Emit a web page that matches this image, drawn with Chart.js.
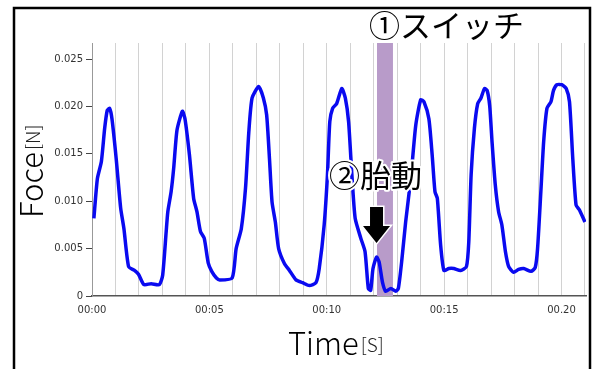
<!DOCTYPE html>
<html>
<head>
<meta charset="utf-8">
<script src="https://cdn.jsdelivr.net/npm/chart.js@4.4.1/dist/chart.umd.min.js"></script>
<style>
  body { margin: 0; background: #fff; }
  canvas { display: block; }
</style>
</head>
<body>
<canvas id="forceChart" width="593" height="369"></canvas>
<script>
// time [s] and force [N]
var timeSec = [0.08, 0.23, 0.40, 0.54, 0.65, 0.75, 0.85, 1.03, 1.22, 1.36, 1.56, 1.81, 1.98, 2.21, 2.52, 2.87,
    3.01, 3.16, 3.23, 3.37, 3.48, 3.62, 3.85, 3.96, 4.15, 4.33, 4.47, 4.62, 4.78, 4.95, 5.10, 5.30, 5.44, 5.97,
    6.14, 6.36, 6.54, 6.68, 6.82, 7.10, 7.30, 7.44, 7.56, 7.67, 7.81, 7.95, 8.20, 8.41, 8.69, 8.97, 9.26, 9.54,
    9.68, 9.89, 10.03, 10.13, 10.25, 10.42, 10.64, 10.79, 10.93, 11.07, 11.21, 11.45, 11.63, 11.77, 11.87, 11.97,
    12.12, 12.23, 12.37, 12.51, 12.73, 12.94, 13.05, 13.19, 13.36, 13.58, 13.79, 14.00, 14.14, 14.35, 14.49, 14.61,
    14.71, 14.85, 14.99, 15.20, 15.41, 15.70, 15.95, 16.05, 16.15, 16.29, 16.43, 16.57, 16.72, 16.83, 16.94, 17.04,
    17.18, 17.32, 17.46, 17.61, 17.75, 17.96, 18.17, 18.39, 18.70, 18.88, 18.98, 19.12, 19.24, 19.38, 19.55, 19.66,
    19.80, 20.01, 20.20, 20.34, 20.48, 20.62, 20.76, 21.00];
var force = [0.0082, 0.0124, 0.0142, 0.0177, 0.0196, 0.0198, 0.0187, 0.0145, 0.0093, 0.0071, 0.0031, 0.0027, 0.0023, 0.0012, 0.0013, 0.0012,
    0.0022, 0.0068, 0.0089, 0.0110, 0.0135, 0.0175, 0.0195, 0.0187, 0.0149, 0.0103, 0.0089, 0.0068, 0.0061, 0.0035, 0.0026, 0.0019, 0.0017, 0.0019,
    0.0050, 0.0071, 0.0114, 0.0173, 0.0209, 0.0221, 0.0209, 0.0191, 0.0145, 0.0099, 0.0078, 0.0050, 0.0034, 0.0027, 0.0017, 0.0014, 0.0011, 0.0014,
    0.0029, 0.0075, 0.0128, 0.0184, 0.0198, 0.0203, 0.0219, 0.0209, 0.0184, 0.0128, 0.0082, 0.0061, 0.0047, 0.0008, 0.0006, 0.0029,
    0.0041, 0.0036, 0.0015, 0.0005, 0.0008, 0.0005, 0.0008, 0.0036, 0.0078, 0.0124, 0.0180, 0.0207, 0.0205, 0.0187, 0.0149, 0.0110,
    0.0103, 0.0054, 0.0027, 0.0029, 0.0029, 0.0027, 0.0031, 0.0057, 0.0128, 0.0177, 0.0203, 0.0209, 0.0219, 0.0217, 0.0201, 0.0163,
    0.0117, 0.0089, 0.0075, 0.0047, 0.0031, 0.0025, 0.0028, 0.0029, 0.0026, 0.0030, 0.0050, 0.0110, 0.0163, 0.0198, 0.0205, 0.0217,
    0.0223, 0.0223, 0.0219, 0.0205, 0.0145, 0.0096, 0.0091, 0.0078];

var xTickValues = [0, 1, 2, 3, 4, 5, 6, 7, 8, 9, 10, 11, 12, 13, 14, 15, 16, 17, 18, 19, 20, 21];
var xTickLabels = { 0: "00:00", 5: "00:05", 10: "00:10", 15: "00:15", 20: "00.20" };
var yTickValues = [0, 0.005, 0.010, 0.015, 0.020, 0.025];
var yTickLabels = ["0", "0.005", "0.010", "0.015", "0.020", "0.025"];

// annotations
var switchStart = 12.14, switchEnd = 12.82;   // ①スイッチ band
var switchLabel = "①スイッチ";
var moveLabel = "②胎動";
var arrowTime = 12.12, arrowTop = 0.0094, arrowTip = 0.0056;

var jp = '"Noto Sans CJK JP", "Noto Sans", sans-serif';

var extras = {
    id: "extras",
    beforeDraw: function (chart) {
        var c = chart.ctx;
        c.save();
        c.fillStyle = "#fff";
        c.fillRect(0, 0, chart.width, chart.height);
        c.restore();
    },
    beforeDatasetsDraw: function (chart) {
        var c = chart.ctx, x = chart.scales.x, a = chart.chartArea;
        var x0 = x.getPixelForValue(switchStart), x1 = x.getPixelForValue(switchEnd);
        c.save();
        c.fillStyle = "#b89bc9";
        c.fillRect(x0, a.top, x1 - x0, a.bottom - a.top);
        c.restore();
    },
    afterDraw: function (chart) {
        var c = chart.ctx, x = chart.scales.x, y = chart.scales.y;
        c.save();
        // outer frame
        c.strokeStyle = "#000";
        c.lineWidth = 2.5;
        c.strokeRect(14, 8, 576, 420);

        // arrow
        var ax = x.getPixelForValue(arrowTime);
        var top = y.getPixelForValue(arrowTop), tip = y.getPixelForValue(arrowTip);
        var neck = tip - 17;
        c.beginPath();
        c.moveTo(ax - 6.5, top);
        c.lineTo(ax + 6.5, top);
        c.lineTo(ax + 6.5, neck);
        c.lineTo(ax + 13.5, neck);
        c.lineTo(ax, tip);
        c.lineTo(ax - 13.5, neck);
        c.lineTo(ax - 6.5, neck);
        c.closePath();
        c.lineJoin = "miter";
        c.strokeStyle = "#fff";
        c.lineWidth = 3;
        c.stroke();
        c.fillStyle = "#000";
        c.fill();

        // labels
        c.textBaseline = "alphabetic";
        c.textAlign = "left";
        c.fillStyle = "#000";
        c.font = "31px " + jp;
        c.fillText(switchLabel, 369, 37);
        c.strokeStyle = "#fff";
        c.lineWidth = 4;
        c.lineJoin = "round";
        c.strokeText(moveLabel, 329, 187);
        c.fillText(moveLabel, 329, 187);

        // axis titles
        c.font = "300 31px " + jp;
        c.fillText("Time", 288, 355);
        var tw = c.measureText("Time").width;
        c.font = "300 19px " + jp;
        c.fillStyle = "#222";
        c.fillText("[S]", 288 + tw + 2, 352);

        c.translate(43, 218);
        c.rotate(-Math.PI / 2);
        c.fillStyle = "#000";
        c.font = "300 31px " + jp;
        c.fillText("Foce", 0, 0);
        var fw = c.measureText("Foce").width;
        c.font = "300 19px " + jp;
        c.fillStyle = "#222";
        c.fillText("[N]", fw + 2, -3);
        c.restore();
    }
};

var ctx = document.getElementById("forceChart");
var myChart = new Chart(ctx, {
    type: "line",
    data: {
        datasets: [{
            data: timeSec.map(function (t, i) { return { x: t, y: force[i] }; }),
            borderColor: "#0a0af0",
            borderWidth: 3.5,
            pointRadius: 0,
            fill: false,
            tension: 0.2
        }]
    },
    options: {
        responsive: false,
        animation: false,
        layout: { padding: { left: 0, right: 6, top: 43, bottom: 0 } },
        plugins: { legend: { display: false }, tooltip: { enabled: false } },
        scales: {
            x: {
                type: "linear",
                min: 0,
                max: 21.05,
                afterBuildTicks: function (s) { s.ticks = xTickValues.map(function (v) { return { value: v }; }); },
                afterFit: function (s) { s.height = 73; },
                ticks: {
                    autoSkip: false,
                    maxRotation: 0,
                    padding: 8,
                    color: "#333",
                    font: { size: 10, family: "'DejaVu Sans', sans-serif" },
                    callback: function (v) { return xTickLabels[v] || ""; }
                },
                grid: { color: "#d2d2d2", lineWidth: 1, drawTicks: false },
                border: { color: "#555", width: 1.5 }
            },
            y: {
                min: 0,
                max: 0.0267,
                afterBuildTicks: function (s) { s.ticks = yTickValues.map(function (v) { return { value: v }; }); },
                afterFit: function (s) { s.width = 92; },
                ticks: {
                    padding: 3,
                    color: "#333",
                    font: { size: 10, family: "'DejaVu Sans', sans-serif" },
                    callback: function (v, i) { return yTickLabels[i]; }
                },
                grid: { drawOnChartArea: false, drawTicks: true, tickLength: 6, color: "#444", lineWidth: 1 },
                border: { color: "#999", width: 1 }
            }
        }
    },
    plugins: [extras]
});
</script>
</body>
</html>
